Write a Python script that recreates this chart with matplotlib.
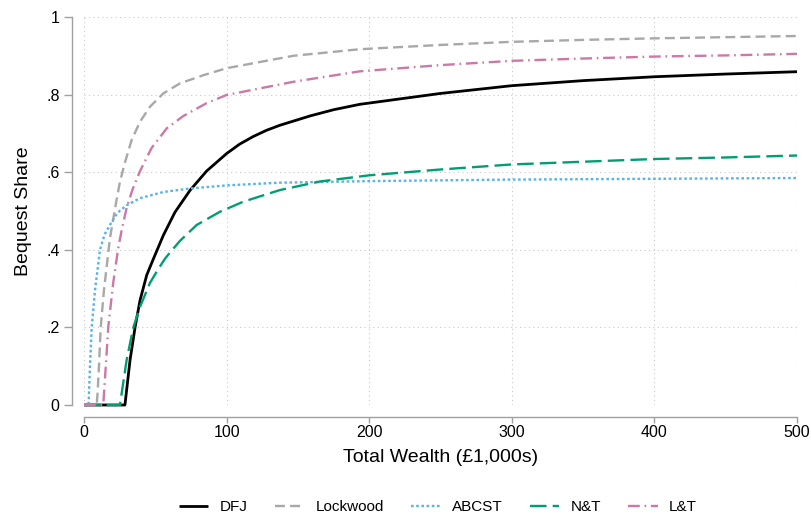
"""Bequest share by total wealth, five model specifications."""
import matplotlib
matplotlib.use("Agg")
import matplotlib.pyplot as plt

plt.rcParams["font.family"] = ["Liberation Sans", "DejaVu Sans"]

# values (wealth in £1,000s, share 0..1)
dfj_x = [0, 28.7, 32.3, 35.8, 39.3, 44, 48.6, 55.6, 63.8, 74.3, 86, 100, 109,
         118.7, 128, 137.4, 158.5, 175, 193.5, 250, 300, 350, 400, 450, 500]
dfj_y = [0, 0, 0.116, 0.2, 0.27, 0.335, 0.376, 0.437, 0.497, 0.553, 0.603,
         0.648, 0.672, 0.692, 0.708, 0.721, 0.745, 0.761, 0.775, 0.803, 0.823,
         0.836, 0.846, 0.853, 0.859]

lock_x = [0, 8.9, 9.5, 10.5, 11.7, 14, 18.2, 22.9, 25.2, 28.7, 33.4, 39.3,
          46.3, 55.6, 67.3, 83.7, 100, 146.8, 193.5, 250, 300, 350, 400, 450,
          500]
lock_y = [0, 0, 0.03, 0.1, 0.2, 0.296, 0.43, 0.53, 0.575, 0.625, 0.683, 0.73,
          0.769, 0.803, 0.829, 0.85, 0.868, 0.9, 0.917, 0.928, 0.936, 0.941,
          0.945, 0.948, 0.951]

abc_x = [0, 3.2, 4.2, 5.4, 7.7, 11.2, 14.5, 18.2, 22.5, 25.2, 30, 39.3, 55.6,
         74.3, 100, 137.4, 200, 300, 400, 500]
abc_y = [0, 0, 0.1, 0.2, 0.295, 0.40, 0.44, 0.464, 0.49, 0.501, 0.515, 0.533,
         0.549, 0.558, 0.566, 0.573, 0.577, 0.581, 0.583, 0.585]

nt_x = [0, 25.2, 29.9, 34.6, 39.3, 46.3, 52, 56.8, 60.3, 67.3, 79, 95.3, 111.7,
        137.4, 165.4, 200, 250, 300, 350, 400, 450, 500]
nt_y = [0, 0, 0.116, 0.2, 0.253, 0.315, 0.35, 0.377, 0.393, 0.423, 0.464,
        0.498, 0.524, 0.554, 0.576, 0.592, 0.607, 0.620, 0.627, 0.634, 0.638,
        0.643]

lt_x = [0, 13.5, 15.4, 17, 19.4, 20.6, 24, 26.4, 30, 34, 39.3, 47.5, 58, 69.7,
        86, 100, 146.8, 193.5, 250, 300, 350, 400, 450, 500]
lt_y = [0, 0, 0.107, 0.2, 0.279, 0.318, 0.404, 0.45, 0.51, 0.555, 0.603, 0.663,
        0.713, 0.745, 0.778, 0.799, 0.833, 0.860, 0.876, 0.887, 0.893, 0.898,
        0.901, 0.905]

x_ticks = [0, 100, 200, 300, 400, 500]
y_ticks = [0, 0.2, 0.4, 0.6, 0.8, 1.0]
y_tick_labels = ["0", ".2", ".4", ".6", ".8", "1"]

fig = plt.figure(figsize=(8.11, 5.2), dpi=100)
ax = fig.add_axes([84 / 811, 1 - 405 / 520, 713 / 811, 388 / 520])

kw = dict(clip_on=False, solid_capstyle="butt", dash_capstyle="butt")
ax.plot(dfj_x, dfj_y, color="black", lw=2.0, label="DFJ", **kw)
ax.plot(lock_x, lock_y, color="#a8a8a8", lw=1.7, ls=(0, (4.2, 2.2)),
        label="Lockwood", **kw)
ax.plot(abc_x, abc_y, color="#56b4e9", lw=1.7, ls=(0, (1.1, 1.1)),
        label="ABCST", **kw)
ax.plot(nt_x, nt_y, color="#009e73", lw=1.7, ls=(0, (7, 2.6)), label="N&T",
        **kw)
ax.plot(lt_x, lt_y, color="#cc79a7", lw=1.7, ls=(0, (5, 2, 0.7, 2)),
        label="L&T", **kw)

ax.set_xlim(0, 500)
ax.set_ylim(0, 1)
ax.set_xticks(x_ticks)
ax.set_yticks(y_ticks)
ax.set_yticklabels(y_tick_labels)
ax.grid(True, color="#c8c8c8", ls=(0, (1, 3)), lw=0.8)

for side in ("top", "right"):
    ax.spines[side].set_visible(False)
for side in ("left", "bottom"):
    ax.spines[side].set_position(("outward", 8.6))
    ax.spines[side].set_color("#a0a0a0")
    ax.spines[side].set_linewidth(1.0)
ax.spines["left"].set_bounds(0, 1)
ax.spines["bottom"].set_bounds(0, 500)
ax.tick_params(axis="both", colors="#a0a0a0", labelcolor="black",
               labelsize=11.5, width=1.0)
ax.tick_params(axis="y", length=6, pad=3)
ax.tick_params(axis="x", length=4, pad=2)

ax.set_xlabel("Total Wealth (£1,000s)", fontsize=14, labelpad=6)
ax.set_ylabel("Bequest Share", fontsize=14, labelpad=10)

fig.legend(loc="center", bbox_to_anchor=(438 / 811, 1 - 507 / 520), ncol=5,
           frameon=False, fontsize=11, handlelength=1.9, columnspacing=1.8,
           handletextpad=0.75)

fig.savefig("out.png", dpi=100)
